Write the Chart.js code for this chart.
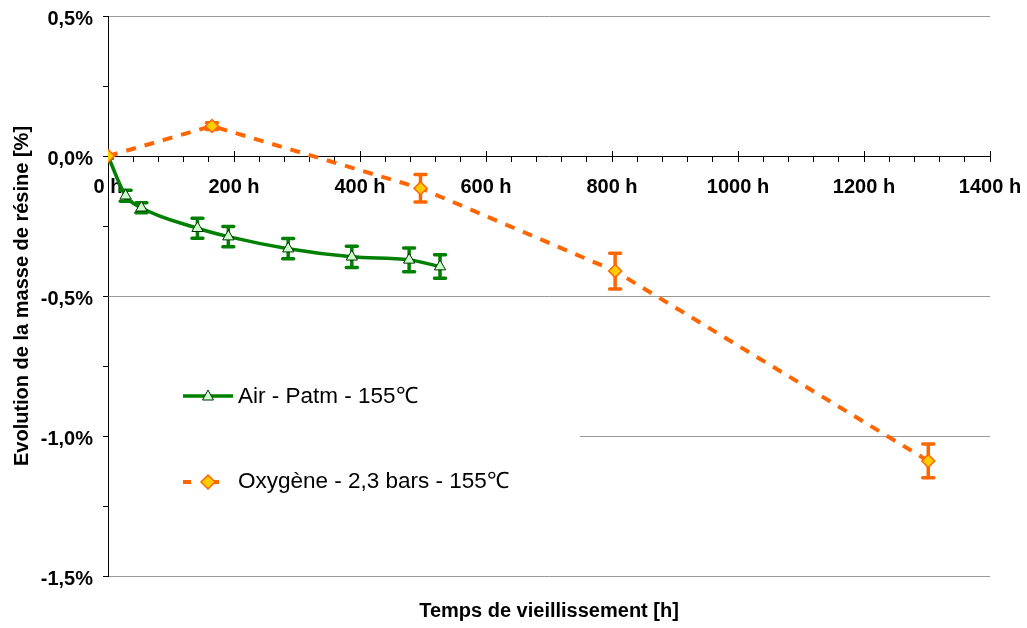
<!DOCTYPE html>
<html>
<head>
<meta charset="utf-8">
<script src="https://cdn.jsdelivr.net/npm/chart.js@4"></script>
<style>
  html, body { margin: 0; padding: 0; background: #fff; }
  #wrap { width: 1027px; height: 628px; }
</style>
</head>
<body>
<div id="wrap"><canvas id="massChart" width="1027" height="628"></canvas></div>
<script>
// Données
const airHours = [0, 28, 53, 142, 191, 286, 387, 478, 527];
const airMass  = [0, -0.142, -0.185, -0.258, -0.288, -0.331, -0.360, -0.371, -0.395];
const airErr   = [0, 0.02, 0.018, 0.036, 0.036, 0.036, 0.038, 0.042, 0.042];

const oxyHours = [0, 165, 496, 805, 1302];
const oxyMass  = [0, 0.107, -0.115, -0.411, -1.089];
const oxyErr   = [0, 0.012, 0.049, 0.064, 0.06];

const seriesLabels = ['Air - Patm - 155\u2103', 'Oxyg\u00e8ne - 2,3 bars - 155\u2103'];
const xAxisTitle = 'Temps de vieillissement [h]';
const yAxisTitle = 'Evolution de la masse de r\u00e9sine [%]';

const GREEN = '#008000';
const ORANGE = '#FF6600';
const FONT = '"Liberation Sans", Arial, sans-serif';

const toPoints = (xs, ys) => xs.map((x, i) => ({ x: x, y: ys[i] }));

// Barres d'erreur + légende + titre de l'axe X
const extras = {
    id: 'extras',
    beforeDatasetsDraw(chart) {
        const ctx = chart.ctx;
        const xs = chart.scales.x, ys = chart.scales.y;
        // graduations majeures qui traversent l'axe X
        ctx.save();
        ctx.strokeStyle = '#000';
        ctx.lineWidth = 1;
        const y0 = Math.round(ys.getPixelForValue(0));
        for (let v = 0; v <= 1400; v += 200) {
            const px = Math.round(xs.getPixelForValue(v)) + 0.5;
            ctx.beginPath();
            ctx.moveTo(px, y0 - 5);
            ctx.lineTo(px, y0);
            ctx.stroke();
        }
        ctx.restore();

        chart.data.datasets.forEach(ds => {
            if (!ds.errors) return;
            ctx.save();
            ctx.strokeStyle = ds.borderColor;
            ctx.lineWidth = 3.5;
            ctx.lineCap = 'round';
            ds.data.forEach((p, j) => {
                const e = ds.errors[j];
                if (!e) return;
                const px = xs.getPixelForValue(p.x);
                const top = ys.getPixelForValue(p.y + e);
                const bot = ys.getPixelForValue(p.y - e);
                ctx.beginPath();
                ctx.moveTo(px, top); ctx.lineTo(px, bot);
                ctx.moveTo(px - 5.5, top); ctx.lineTo(px + 5.5, top);
                ctx.moveTo(px - 5.5, bot); ctx.lineTo(px + 5.5, bot);
                ctx.stroke();
            });
            ctx.restore();
        });
    },
    afterDraw(chart) {
        const ctx = chart.ctx;
        const area = chart.chartArea;
        ctx.save();
        // fond blanc de la légende
        ctx.fillStyle = '#fff';
        ctx.fillRect(area.left + 1, 362, 580 - area.left - 1, 150);

        // Air
        ctx.strokeStyle = GREEN;
        ctx.lineWidth = 3.5;
        ctx.beginPath();
        ctx.moveTo(183, 396); ctx.lineTo(233, 396);
        ctx.stroke();
        ctx.fillStyle = '#CCFFCC';
        ctx.strokeStyle = '#003300';
        ctx.lineWidth = 1;
        ctx.beginPath();
        ctx.moveTo(208, 390); ctx.lineTo(213.5, 400); ctx.lineTo(202.5, 400); ctx.closePath();
        ctx.fill(); ctx.stroke();

        // Oxygène
        ctx.strokeStyle = ORANGE;
        ctx.lineWidth = 4;
        ctx.beginPath();
        ctx.moveTo(183, 482); ctx.lineTo(191, 482);
        ctx.moveTo(214, 482); ctx.lineTo(219, 482);
        ctx.stroke();
        ctx.fillStyle = '#FFCC00';
        ctx.lineWidth = 1.5;
        ctx.beginPath();
        ctx.moveTo(208, 475); ctx.lineTo(215, 482); ctx.lineTo(208, 489); ctx.lineTo(201, 482); ctx.closePath();
        ctx.fill(); ctx.stroke();

        ctx.fillStyle = '#000';
        ctx.font = '22.5px ' + FONT;
        ctx.textBaseline = 'middle';
        ctx.textAlign = 'left';
        ctx.fillText(seriesLabels[0], 238, 397);
        ctx.fillText(seriesLabels[1], 238, 482);

        // titre axe X
        ctx.font = 'bold 20px ' + FONT;
        ctx.textAlign = 'center';
        ctx.fillText(xAxisTitle, (area.left + area.right) / 2, 611);
        ctx.restore();
    }
};

const fmtPct = v => v.toFixed(1).replace('.', ',') + '%';
const isHalf = v => Math.abs(v * 2 - Math.round(v * 2)) < 1e-9;

new Chart(document.getElementById('massChart').getContext('2d'), {
    type: 'scatter',
    data: {
        datasets: [{
            label: seriesLabels[0],
            data: toPoints(airHours, airMass),
            errors: airErr,
            order: 2,
            showLine: true,
            borderColor: GREEN,
            borderWidth: 3.5,
            cubicInterpolationMode: 'monotone',
            pointStyle: 'triangle',
            pointRadius: 6.5,
            pointBackgroundColor: '#CCFFCC',
            pointBorderColor: '#003300',
            pointBorderWidth: 1
        }, {
            label: seriesLabels[1],
            data: toPoints(oxyHours, oxyMass),
            errors: oxyErr,
            order: 1,
            showLine: true,
            borderColor: ORANGE,
            borderWidth: 4,
            borderDash: [10, 9],
            tension: 0,
            pointStyle: 'rectRot',
            pointRadius: 6.5,
            pointBackgroundColor: '#FFCC00',
            pointBorderColor: ORANGE,
            pointBorderWidth: 1.5
        }]
    },
    options: {
        responsive: false,
        animation: false,
        layout: { padding: { top: 16, right: 37, bottom: 52, left: 0 } },
        plugins: {
            legend: { display: false },
            tooltip: { enabled: false }
        },
        scales: {
            x: {
                type: 'linear',
                position: { y: 0 },
                min: 0,
                max: 1400,
                afterFit: s => { s.paddingLeft = 0; s.paddingRight = 0; },
                ticks: {
                    stepSize: 40,
                    autoSkip: false,
                    maxRotation: 0,
                    padding: 14,
                    color: '#000',
                    font: { family: FONT, size: 20, weight: 'bold' },
                    callback: v => (v % 200 === 0 ? v + ' h' : '')
                },
                grid: {
                    drawOnChartArea: false,
                    drawTicks: true,
                    tickLength: 5,
                    tickColor: '#000'
                },
                border: { color: '#000', width: 1 }
            },
            y: {
                min: -1.5,
                max: 0.5,
                afterFit: s => { s.width = 108; s.paddingTop = 0; s.paddingBottom = 0; },
                ticks: {
                    stepSize: 0.25,
                    autoSkip: false,
                    padding: 10,
                    labelOffset: 3,
                    color: '#000',
                    font: { family: FONT, size: 20, weight: 'bold' },
                    callback: v => (isHalf(v) ? fmtPct(v) : '')
                },
                grid: {
                    color: c => {
                        const v = c.tick ? c.tick.value : 0;
                        return (isHalf(v) && Math.abs(v) > 1e-9) ? '#999' : 'rgba(0,0,0,0)';
                    },
                    tickColor: '#000',
                    tickLength: 5
                },
                border: { color: '#000', width: 1 },
                title: {
                    display: true,
                    text: yAxisTitle,
                    color: '#000',
                    padding: { top: 10, bottom: 0 },
                    font: { family: FONT, size: 20, weight: 'bold' }
                }
            }
        }
    },
    plugins: [extras]
});
</script>
</body>
</html>
